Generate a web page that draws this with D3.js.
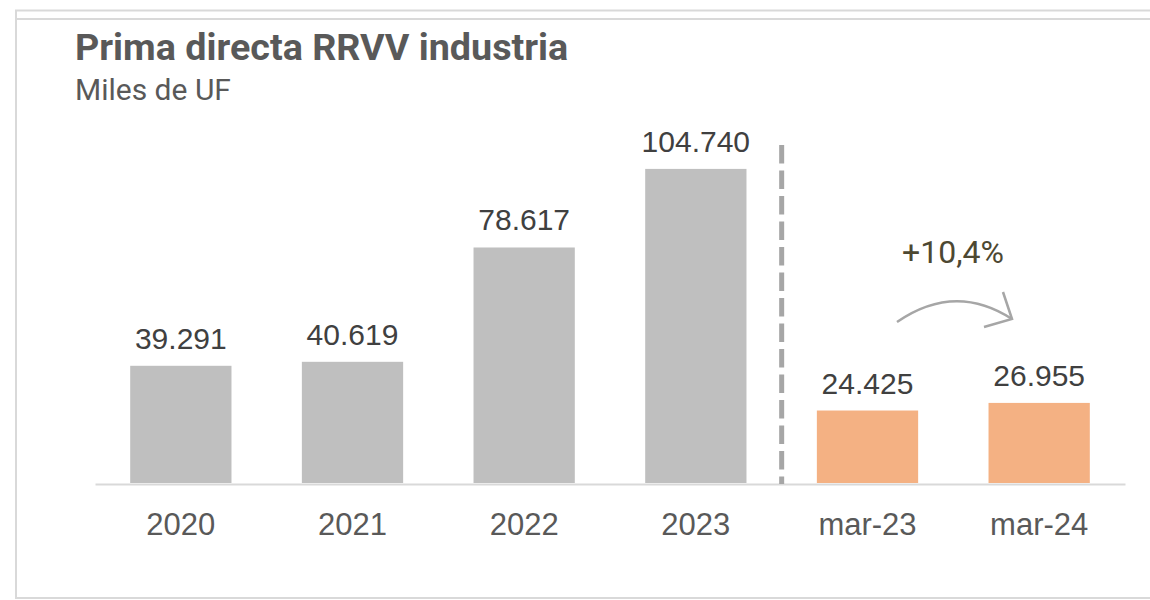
<!DOCTYPE html>
<html><head><meta charset="utf-8">
<script src="https://cdn.jsdelivr.net/npm/d3@7"></script>
<style>
html,body{margin:0;padding:0;background:#fff;}
svg{display:block;}
</style></head>
<body>
<svg id="chart" width="1150" height="600"></svg>
<script>
const categories = ["2020","2021","2022","2023","mar-23","mar-24"];
const values = [39291, 40619, 78617, 104740, 24425, 26955];
const valueLabels = ["39.291","40.619","78.617","104.740","24.425","26.955"];
const barColors = ["#bfbfbf","#bfbfbf","#bfbfbf","#bfbfbf","#f4b183","#f4b183"];
const title = "Prima directa RRVV industria";
const subtitle = "Miles de UF";
const growthLabel = "+10,4%";

const svg = d3.select("#chart");
const W = 1150, H = 600;
const baseY = 484;

// frame
const frame = svg.append("g");
frame.append("line").attr("x1",15).attr("x2",W).attr("y1",10.5).attr("y2",10.5).attr("stroke","#d9d9d9").attr("stroke-width",2);
frame.append("line").attr("x1",15).attr("x2",W).attr("y1",19).attr("y2",19).attr("stroke","#d9d9d9").attr("stroke-width",2);
frame.append("line").attr("x1",16).attr("x2",16).attr("y1",10).attr("y2",598).attr("stroke","#d9d9d9").attr("stroke-width",2);
frame.append("line").attr("x1",15).attr("x2",W).attr("y1",598).attr("y2",598).attr("stroke","#d9d9d9").attr("stroke-width",2);

// titles
svg.append("text").attr("x",75).attr("y",60).text(title)
  .attr("font-family","Roboto").attr("font-weight","bold").attr("font-size",37.7).attr("fill","#595959");
svg.append("text").attr("x",75).attr("y",100).text(subtitle)
  .attr("font-family","Roboto").attr("font-size",30).attr("fill","#595959");

const x = d3.scaleBand().domain(categories).range([95,1125]).paddingInner(0.41).paddingOuter(0.205);
const y = d3.scaleLinear().domain([0,120000]).range([baseY,123]);

// baseline axis
const xAxis = d3.axisBottom(x).tickSize(0).tickPadding(0);
const ax = svg.append("g").attr("transform",`translate(0,${baseY})`).call(xAxis);
ax.select(".domain").attr("stroke","#d9d9d9").attr("stroke-width",2);
ax.selectAll("text").attr("font-family","Liberation Sans, Arial").attr("font-size",31).attr("fill","#595959")
  .attr("y",51).attr("dy",0);

svg.append("g").selectAll("rect").data(categories).join("rect")
  .attr("x",d=>x(d)).attr("width",x.bandwidth())
  .attr("y",(d,i)=>y(values[i])).attr("height",(d,i)=>baseY - y(values[i]) - 1)
  .attr("fill",(d,i)=>barColors[i]);

svg.append("g").selectAll("text").data(categories).join("text")
  .attr("x",d=>x(d)+x.bandwidth()/2).attr("y",(d,i)=>y(values[i]) - 17)
  .attr("text-anchor","middle").attr("font-family","Liberation Sans, Arial").attr("font-size",30).attr("fill","#404040")
  .text((d,i)=>valueLabels[i]);

// dashed separator
const sepX = (x("2023")+x.bandwidth() + x("mar-23"))/2;
svg.append("line").attr("x1",sepX).attr("x2",sepX).attr("y1",145).attr("y2",baseY)
  .attr("stroke","#a6a6a6").attr("stroke-width",5).attr("stroke-dasharray","18.5,7");

// growth annotation
svg.append("text").attr("x",953).attr("y",263).attr("text-anchor","middle")
  .attr("font-family","Roboto").attr("font-size",32).attr("fill","#4d4832").text(growthLabel);
svg.append("path").attr("d","M897,322 Q955,282 1012,319").attr("fill","none").attr("stroke","#a6a6a6").attr("stroke-width",2.5);
svg.append("path").attr("d","M1003,292 L1012,319 L984,327").attr("fill","none").attr("stroke","#a6a6a6").attr("stroke-width",2.5);
</script>
</body></html>
